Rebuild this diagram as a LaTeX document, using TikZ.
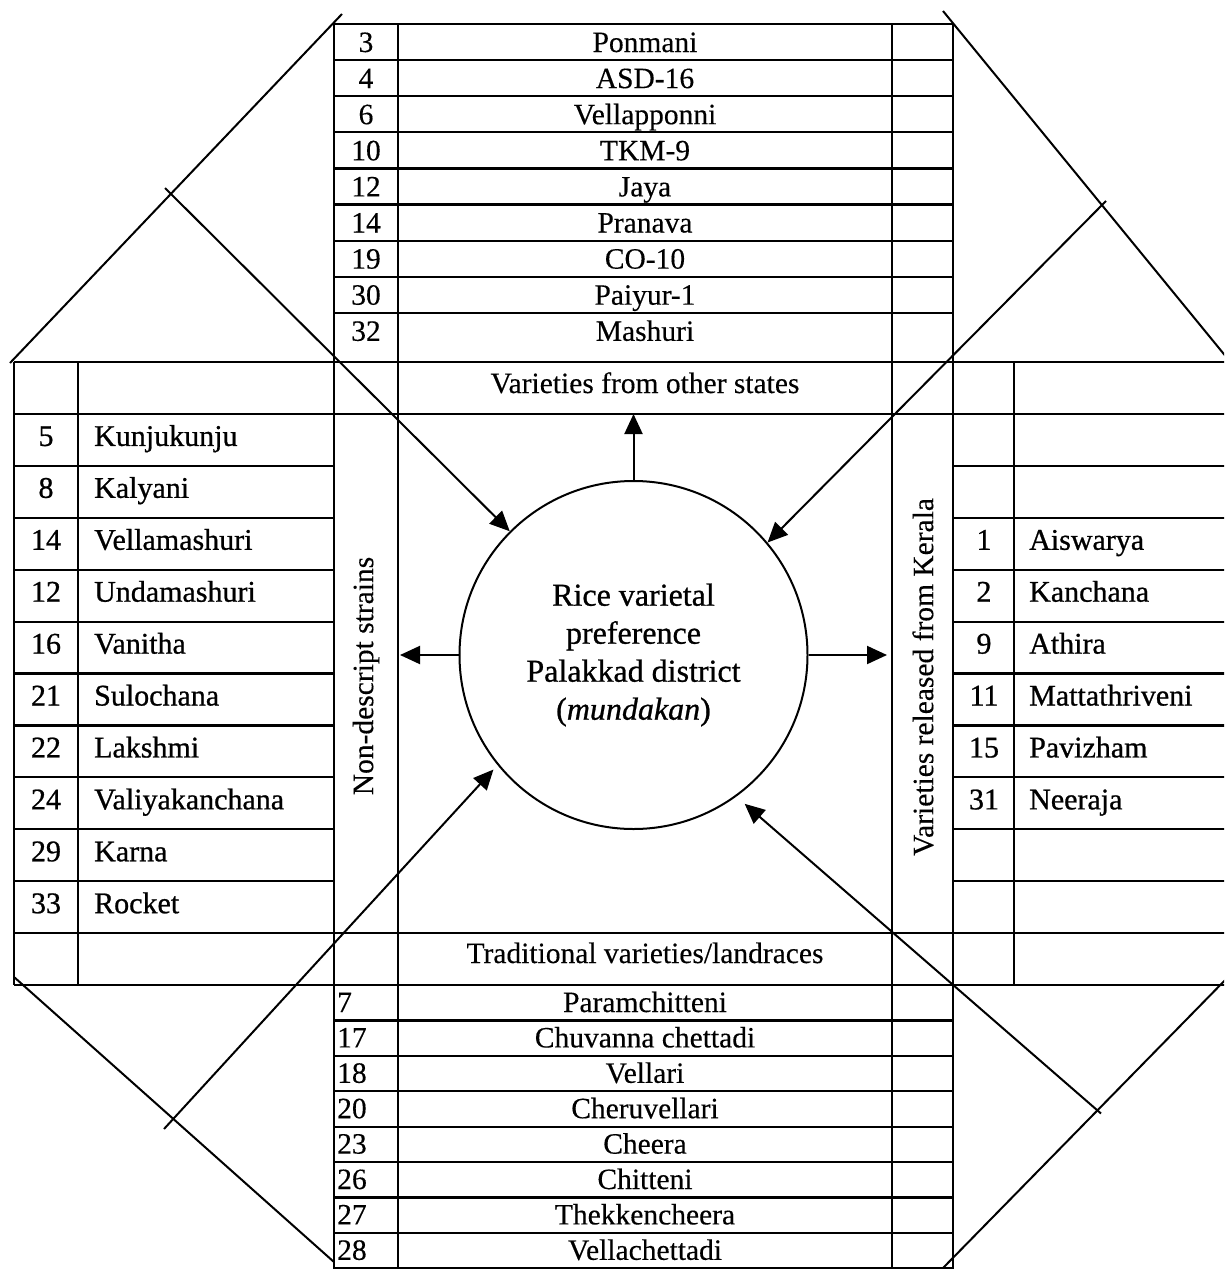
\documentclass[tikz,border=0pt]{standalone}
\usepackage{fontspec}
\setmainfont[FakeBold=0.3]{Liberation Serif}
\newfontfamily\bkfont[FakeBold=0.8]{Liberation Serif}
\usetikzlibrary{arrows.meta}
\begin{document}
\begin{tikzpicture}[x=1pt,y=-1pt,
  grid/.style={line width=2.2pt},
  diag/.style={line width=2pt},
  arr/.style={line width=2pt,-{Triangle[length=20pt,width=18pt]}},
  txt/.style={inner sep=0pt,font=\fontsize{29.5}{35}\selectfont},
  btxt/.style={inner sep=0pt,font=\bkfont\fontsize{30}{36}\selectfont},
  ctxt/.style={circle,draw,line width=2pt,minimum size=348pt,inner sep=0pt,align=center,font=\bkfont\fontsize{32}{38}\selectfont}
]
\useasboundingbox (0,0) rectangle (1224,1269);
\clip (0,0) rectangle (1224,1269);

% ---------- horizontal rules ----------
\foreach \k in {0,...,8}{
  \pgfmathsetmacro\yy{24+36.1*\k}
  \draw[grid] (334,\yy) -- (953,\yy);
}
\foreach \yy in {362,413.9,933.1,985}
  \draw[grid] (14,\yy) -- (1240,\yy);
\foreach \k in {2,...,10}{
  \pgfmathsetmacro\yy{362+51.92*\k}
  \draw[grid] (14,\yy) -- (334,\yy);
  \draw[grid] (953,\yy) -- (1240,\yy);
}
\foreach \k in {1,...,8}{
  \pgfmathsetmacro\yy{985+35.4*\k}
  \draw[grid] (334,\yy) -- (953,\yy);
}

% ---------- vertical rules ----------
\draw[grid] (14,362) -- (14,985);
\draw[grid] (78,362) -- (78,985);
\draw[grid] (334,24) -- (334,1275);
\draw[grid] (398,24) -- (398,1275);
\draw[grid] (892,24) -- (892,1275);
\draw[grid] (953,24) -- (953,1275);
\draw[grid] (1014,362) -- (1014,985);

% ---------- octagon edges ----------
\draw[diag] (10,363) -- (342,14);
\draw[diag] (943,11) -- (1232,364);
\draw[diag] (1232,973) -- (942,1269);
\draw[diag] (14,977) -- (334,1262);

% ---------- centre ----------
\node[ctxt] (circ) at (633.5,655) {Rice varietal\\preference\\Palakkad district\\(\textit{mundakan})};

\coordinate (tls) at (165,188);
\coordinate (trs) at (1106,201);
\coordinate (bls) at (164,1129);
\coordinate (brs) at (1101,1113.5);
\coordinate (upe) at (633.5,414);
\coordinate (lfe) at (400,655);
\coordinate (rte) at (887,655);

\draw[arr] (tls) -- (circ.135);
\draw[arr] (trs) -- (circ.40);
\draw[arr,shorten >=6pt] (bls) -- (circ.-141);
\draw[arr,shorten >=11pt] (brs) -- (circ.-54);
\draw[arr] (circ.north) -- (upe);
\draw[arr] (circ.west) -- (lfe);
\draw[arr] (circ.east) -- (rte);

% ---------- headings ----------
\node[txt,anchor=base] (hos) at (645,393) {Varieties from other states};
\node[txt,anchor=base] (htr) at (645,963) {Traditional varieties/landraces};
\node[txt,rotate=90] (hns) at (366,676) {Non-descript strains};
\node[txt,rotate=90] (hvk) at (923,677) {Varieties released from Kerala};

% ---------- top table ----------
\foreach \n/\v [count=\i from 0] in {3/Ponmani,4/ASD-16,6/Vellapponni,10/TKM-9,12/Jaya,14/Pranava,19/CO-10,30/Paiyur-1,32/Mashuri}{
  \pgfmathsetmacro\yb{24+36.1*\i+28}
  \node[txt,anchor=base] (tn\i) at (366,\yb) {\n};
  \node[txt,anchor=base] (tv\i) at (645,\yb) {\v};
}

% ---------- bottom table ----------
\foreach \n/\v [count=\i from 0] in {7/Paramchitteni,17/Chuvanna chettadi,18/Vellari,20/Cheruvellari,23/Cheera,26/Chitteni,27/Thekkencheera,28/Vellachettadi}{
  \pgfmathsetmacro\yb{985+35.4*\i+27}
  \node[txt,anchor=base west] (bn\i) at (337,\yb) {\n};
  \node[txt,anchor=base] (bv\i) at (645,\yb) {\v};
}

% ---------- left table ----------
\foreach \n/\v [count=\i from 1] in {5/Kunjukunju,8/Kalyani,14/Vellamashuri,12/Undamashuri,16/Vanitha,21/Sulochana,22/Lakshmi,24/Valiyakanchana,29/Karna,33/Rocket}{
  \pgfmathsetmacro\yb{362+51.92*\i+32}
  \node[btxt,anchor=base] (ln\i) at (46,\yb) {\n};
  \node[btxt,anchor=base west] (lv\i) at (94,\yb) {\v};
}

% ---------- right table ----------
\foreach \n/\v [count=\i from 3] in {1/Aiswarya,2/Kanchana,9/Athira,11/Mattathriveni,15/Pavizham,31/Neeraja}{
  \pgfmathsetmacro\yb{362+51.92*\i+32}
  \node[btxt,anchor=base] (rn\i) at (984,\yb) {\n};
  \node[btxt,anchor=base west] (rv\i) at (1029,\yb) {\v};
}
\end{tikzpicture}
\end{document}
